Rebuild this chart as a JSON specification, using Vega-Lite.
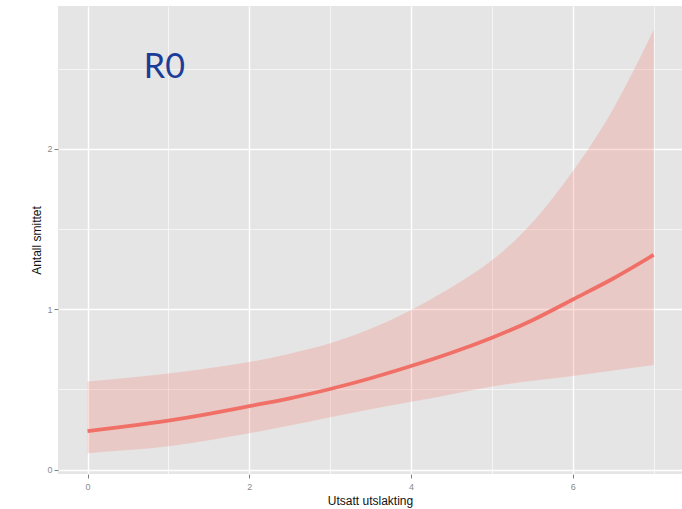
{
  "$schema": "https://vega.github.io/schema/vega-lite/v6.json",
  "width": 624,
  "height": 468,
  "autosize": {"type": "none"},
  "padding": {"left": 58, "top": 6, "right": 0, "bottom": 35},
  "background": "white",
  "config": {
    "view": {"fill": "#E5E5E5", "stroke": null},
    "font": "Liberation Sans"
  },
  "data": {
    "values": [
      {"x": 0.0, "fit": 0.240, "lower": 0.101, "upper": 0.548},
      {"x": 0.5, "fit": 0.271, "lower": 0.121, "upper": 0.572},
      {"x": 1.0, "fit": 0.305, "lower": 0.145, "upper": 0.598},
      {"x": 1.5, "fit": 0.347, "lower": 0.183, "upper": 0.632},
      {"x": 2.0, "fit": 0.395, "lower": 0.226, "upper": 0.670},
      {"x": 2.5, "fit": 0.444, "lower": 0.274, "upper": 0.722},
      {"x": 3.0, "fit": 0.502, "lower": 0.326, "upper": 0.787},
      {"x": 3.5, "fit": 0.569, "lower": 0.376, "upper": 0.878},
      {"x": 4.0, "fit": 0.645, "lower": 0.422, "upper": 0.995},
      {"x": 4.5, "fit": 0.728, "lower": 0.470, "upper": 1.137},
      {"x": 5.0, "fit": 0.822, "lower": 0.517, "upper": 1.305},
      {"x": 5.5, "fit": 0.931, "lower": 0.553, "upper": 1.540},
      {"x": 6.0, "fit": 1.060, "lower": 0.583, "upper": 1.860},
      {"x": 6.5, "fit": 1.191, "lower": 0.618, "upper": 2.250},
      {"x": 7.0, "fit": 1.338, "lower": 0.652, "upper": 2.740}
    ]
  },
  "encoding": {
    "x": {
      "field": "x",
      "type": "quantitative",
      "scale": {"domain": [-0.365, 7.35], "nice": false, "zero": false},
      "axis": {
        "title": "Utsatt utslakting",
        "values": [0, 1, 2, 3, 4, 5, 6, 7],
        "format": "~g",
        "labelExpr": "datum.value % 2 === 0 ? datum.label : ''",
        "grid": true,
        "gridColor": "white",
        "gridWidth": {"condition": {"test": "datum.value % 2 === 0", "value": 1.4}, "value": 0.6},
        "tickOpacity": {"condition": {"test": "datum.value % 2 === 0", "value": 1}, "value": 0},
        "domain": false,
        "tickColor": "#7f7f7f",
        "tickSize": 4,
        "labelColor": "#8a8a8a",
        "labelFontSize": 9,
        "labelPadding": 4,
        "titleFontSize": 12,
        "titleFontWeight": "normal",
        "titleColor": "#111111",
        "titlePadding": 4
      }
    }
  },
  "layer": [
    {
      "mark": {"type": "area", "color": "#F8766D", "opacity": 0.25, "interpolate": "natural"},
      "encoding": {
        "y": {
          "field": "lower",
          "type": "quantitative",
          "scale": {"domain": [-0.028, 2.89], "nice": false, "zero": false},
          "axis": {
            "title": "Antall smittet",
            "values": [0, 0.5, 1, 1.5, 2, 2.5],
            "format": "~g",
            "labelExpr": "datum.value % 1 === 0 ? datum.label : ''",
            "grid": true,
            "gridColor": "white",
            "gridWidth": {"condition": {"test": "datum.value % 1 === 0", "value": 1.4}, "value": 0.6},
            "tickOpacity": {"condition": {"test": "datum.value % 1 === 0", "value": 1}, "value": 0},
            "domain": false,
            "tickColor": "#7f7f7f",
            "tickSize": 4,
            "labelColor": "#8a8a8a",
            "labelFontSize": 9,
            "labelPadding": 2,
            "titleFontSize": 12,
            "titleFontWeight": "normal",
            "titleColor": "#111111",
            "titlePadding": 3
          }
        },
        "y2": {"field": "upper"}
      }
    },
    {
      "mark": {"type": "line", "color": "#F07068", "strokeWidth": 3.8, "interpolate": "natural"},
      "encoding": {
        "y": {"field": "fit", "type": "quantitative"}
      }
    },
    {
      "data": {"values": [{"label": "R0", "x": 0.95, "y": 2.44}]},
      "mark": {"type": "text", "font": "Lato", "fontSize": 34, "color": "#1c3d97", "align": "center", "baseline": "alphabetic"},
      "encoding": {
        "x": {"field": "x", "type": "quantitative"},
        "y": {"field": "y", "type": "quantitative"},
        "text": {"field": "label"}
      }
    }
  ]
}
